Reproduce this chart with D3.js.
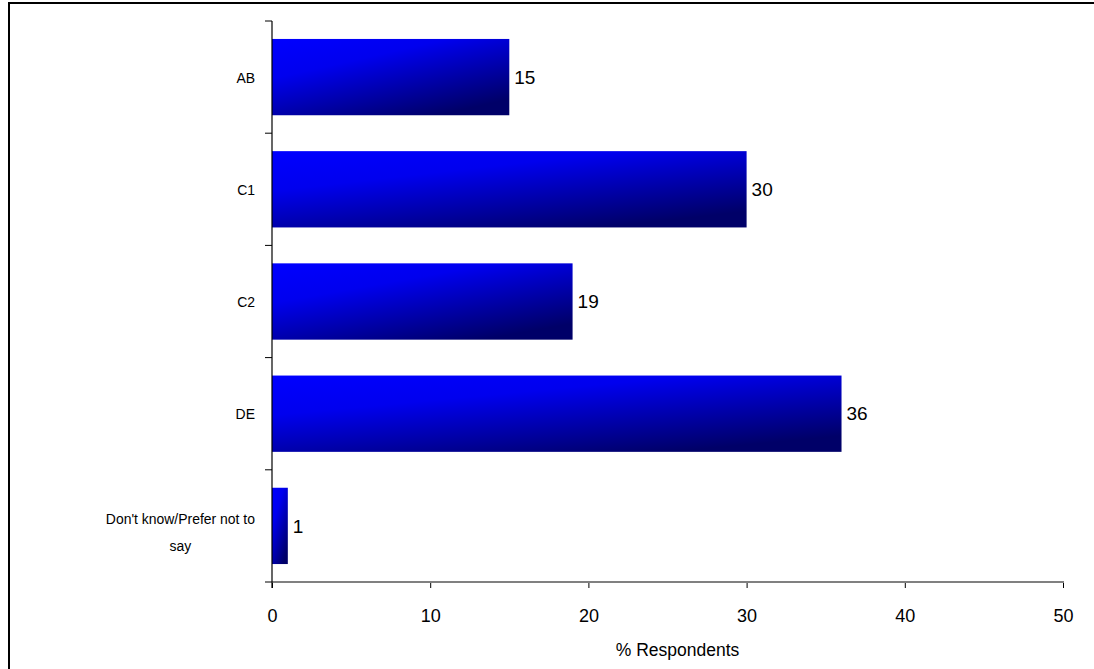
<!DOCTYPE html>
<html>
<head>
<meta charset="utf-8">
<script src="https://cdn.jsdelivr.net/npm/d3@7"></script>
<style>
  html, body { margin: 0; padding: 0; background: #fff; }
  svg { display: block; font-family: "Liberation Sans", Arial, sans-serif; }
</style>
</head>
<body>
<svg id="chart" width="1094" height="669"></svg>
<script>
// Social grade of respondents (% of respondents)
const categories = ["AB", "C1", "C2", "DE", "Don't know/Prefer not to say"];
const categoryLines = [["AB"], ["C1"], ["C2"], ["DE"], ["Don't know/Prefer not to", "say"]];
const values = [15, 30, 19, 36, 1];
const xTicks = [0, 10, 20, 30, 40, 50];
const xTitle = "% Respondents";
const chartTitle = "Figure 4: Social grade of respondents";

const svg = d3.select("#chart");
const W = 1094, H = 669;
const plot = { left: 272, right: 1063, top: 21, bottom: 582 };

// bar fill: bright blue fading to navy toward the lower right
const defs = svg.append("defs");
const grad = defs.append("linearGradient")
  .attr("id", "barFill")
  .attr("x1", 0).attr("y1", 0).attr("x2", 0.7).attr("y2", 1);
grad.append("stop").attr("offset", "0%").attr("stop-color", "#0000ff");
grad.append("stop").attr("offset", "35%").attr("stop-color", "#0000ee");
grad.append("stop").attr("offset", "100%").attr("stop-color", "#000068");

// outer frame (top and left edges visible)
svg.append("line").attr("x1", 8).attr("y1", 3).attr("x2", W).attr("y2", 3)
  .attr("stroke", "#000").attr("stroke-width", 2);
svg.append("line").attr("x1", 9).attr("y1", 2).attr("x2", 9).attr("y2", H)
  .attr("stroke", "#000").attr("stroke-width", 2);

// title sits above the frame edge, only its descenders reach into view
svg.append("text").attr("x", 14).attr("y", -3)
  .attr("font-weight", "bold").attr("font-size", 16)
  .text(chartTitle);

const x = d3.scaleLinear().domain([0, 50]).range([plot.left, plot.right]);
const y = d3.scaleBand().domain(categories).range([plot.top, plot.bottom])
  .paddingInner(0.32).paddingOuter(0.16);

// bars
svg.append("g").selectAll("rect").data(values).join("rect")
  .attr("x", x(0))
  .attr("y", (d, i) => y(categories[i]))
  .attr("width", d => x(d) - x(0))
  .attr("height", y.bandwidth())
  .attr("fill", "url(#barFill)");

// value labels
svg.append("g").selectAll("text").data(values).join("text")
  .attr("x", d => x(d) + 5)
  .attr("y", (d, i) => y(categories[i]) + y.bandwidth() / 2)
  .attr("dy", "0.35em")
  .attr("font-size", 19)
  .attr("fill", "#000")
  .text(d => d);

// x axis
const xAxis = svg.append("g").attr("transform", `translate(0,${plot.bottom})`)
  .call(d3.axisBottom(x).tickValues(xTicks).tickSize(6).tickSizeOuter(0).tickPadding(21));
xAxis.select(".domain").remove();
xAxis.selectAll(".tick line").attr("stroke", "#000");
xAxis.selectAll(".tick text").attr("font-size", 18).attr("fill", "#000")
  .attr("font-family", "Liberation Sans, Arial, sans-serif");
svg.append("line")
  .attr("x1", plot.left - 7).attr("x2", plot.right + 1)
  .attr("y1", plot.bottom).attr("y2", plot.bottom)
  .attr("stroke", "#808080").attr("stroke-width", 2);

// y axis with ticks between categories
const boundaries = d3.range(categories.length).map(i => plot.top + i * (plot.bottom - plot.top) / categories.length);
svg.append("line")
  .attr("x1", plot.left).attr("x2", plot.left)
  .attr("y1", plot.top).attr("y2", plot.bottom + 6)
  .attr("stroke", "#000").attr("stroke-width", 1.2);
svg.append("g").selectAll("line").data(boundaries).join("line")
  .attr("x1", plot.left - 7).attr("x2", plot.left)
  .attr("y1", d => d).attr("y2", d => d)
  .attr("stroke", "#000");

// category labels, centred as a block beside the axis
const squeeze = 0.9;
const catLabels = svg.append("g").attr("font-size", 15.5).attr("fill", "#000");
categories.forEach((c, ci) => {
  const lines = categoryLines[ci];
  const measure = catLabels.append("text").attr("visibility", "hidden");
  const widest = d3.max(lines, l => { measure.text(l); return measure.node().getComputedTextLength(); }) * squeeze;
  measure.remove();
  const cx = plot.left - 17 - widest / 2;
  const cy = y(c) + y.bandwidth() / 2 + (lines.length > 1 ? 6 : 0);
  const lh = 27;
  const t = catLabels.append("text")
    .attr("text-anchor", "middle")
    .attr("transform", `translate(${cx},${cy}) scale(${squeeze},1)`);
  lines.forEach((l, i) => {
    t.append("tspan").attr("x", 0)
      .attr("y", (i - (lines.length - 1) / 2) * lh)
      .attr("dy", "0.35em").text(l);
  });
});

// x axis title
svg.append("text")
  .attr("x", (plot.left + plot.right) / 2 + 10).attr("y", 656)
  .attr("text-anchor", "middle").attr("font-size", 17.5).attr("fill", "#000")
  .text(xTitle);
</script>
</body>
</html>
